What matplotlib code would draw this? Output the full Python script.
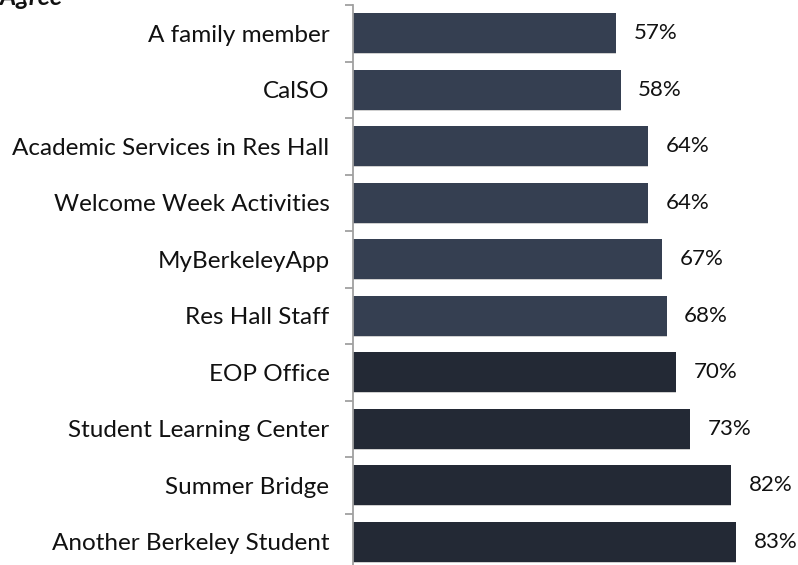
import matplotlib
matplotlib.use("Agg")
import matplotlib.pyplot as plt
import numpy as np

categories = ["A family member", "CalSO", "Academic Services in Res Hall",
              "Welcome Week Activities", "MyBerkeleyApp", "Res Hall Staff",
              "EOP Office", "Student Learning Center", "Summer Bridge",
              "Another Berkeley Student"]
values = [57, 58, 64, 64, 67, 68, 70, 73, 82, 83]
value_labels = ["57%", "58%", "64%", "64%", "67%", "68%", "70%", "73%", "82%", "83%"]
colors = ["#353f51"] * 6 + ["#232935"] * 4

plt.rcParams['font.family'] = ['Lato', 'DejaVu Sans']

W, H = 798, 565
fig = plt.figure(figsize=(W / 100, H / 100), dpi=100)
# axes: left at x=353px, top boundary at y=5px, category spacing 56.5px
left = 353 / W
top_px = 5
span_px = 56.5 * len(categories)
ax = fig.add_axes([left, 1 - (top_px + span_px) / H, 1 - left, span_px / H])

n = len(categories)
y = np.arange(n)
ax.barh(y + 0.02, values, height=0.71, color="#cfcfcf", zorder=1)
ax.barh(y, values, height=0.71, color=colors, zorder=2)

ax.set_ylim(n - 0.5, -0.5)
px_per_unit = 4.615
ax.set_xlim(0, (W - 353) / px_per_unit)

for yi, v, lab in zip(y, values, value_labels):
    ax.annotate(lab, (v, yi), xytext=(12.5, 0), textcoords="offset points",
                va="center", ha="left", fontsize=16, color="#111111")

for s in ["top", "right", "bottom"]:
    ax.spines[s].set_visible(False)
ax.spines["left"].set_color("#a0a0a0")
ax.spines["left"].set_linewidth(1.3)
ax.set_xticks([])

ax.set_yticks(np.arange(-0.5, n, 1.0))
ax.set_yticklabels([])
ax.tick_params(axis="y", which="major", length=6, width=1.3, color="#a0a0a0")
ax.set_yticks(y, minor=True)
ax.set_yticklabels(categories, minor=True, fontsize=17.5, color="#111111")
ax.tick_params(axis="y", which="minor", length=0, pad=17)

fig.text(62 / W, 1 - 5 / H, "Agree", ha="right", va="baseline",
         fontsize=18, fontweight="bold", fontstyle="italic", color="#111111")

fig.savefig("out.png", dpi=100)
